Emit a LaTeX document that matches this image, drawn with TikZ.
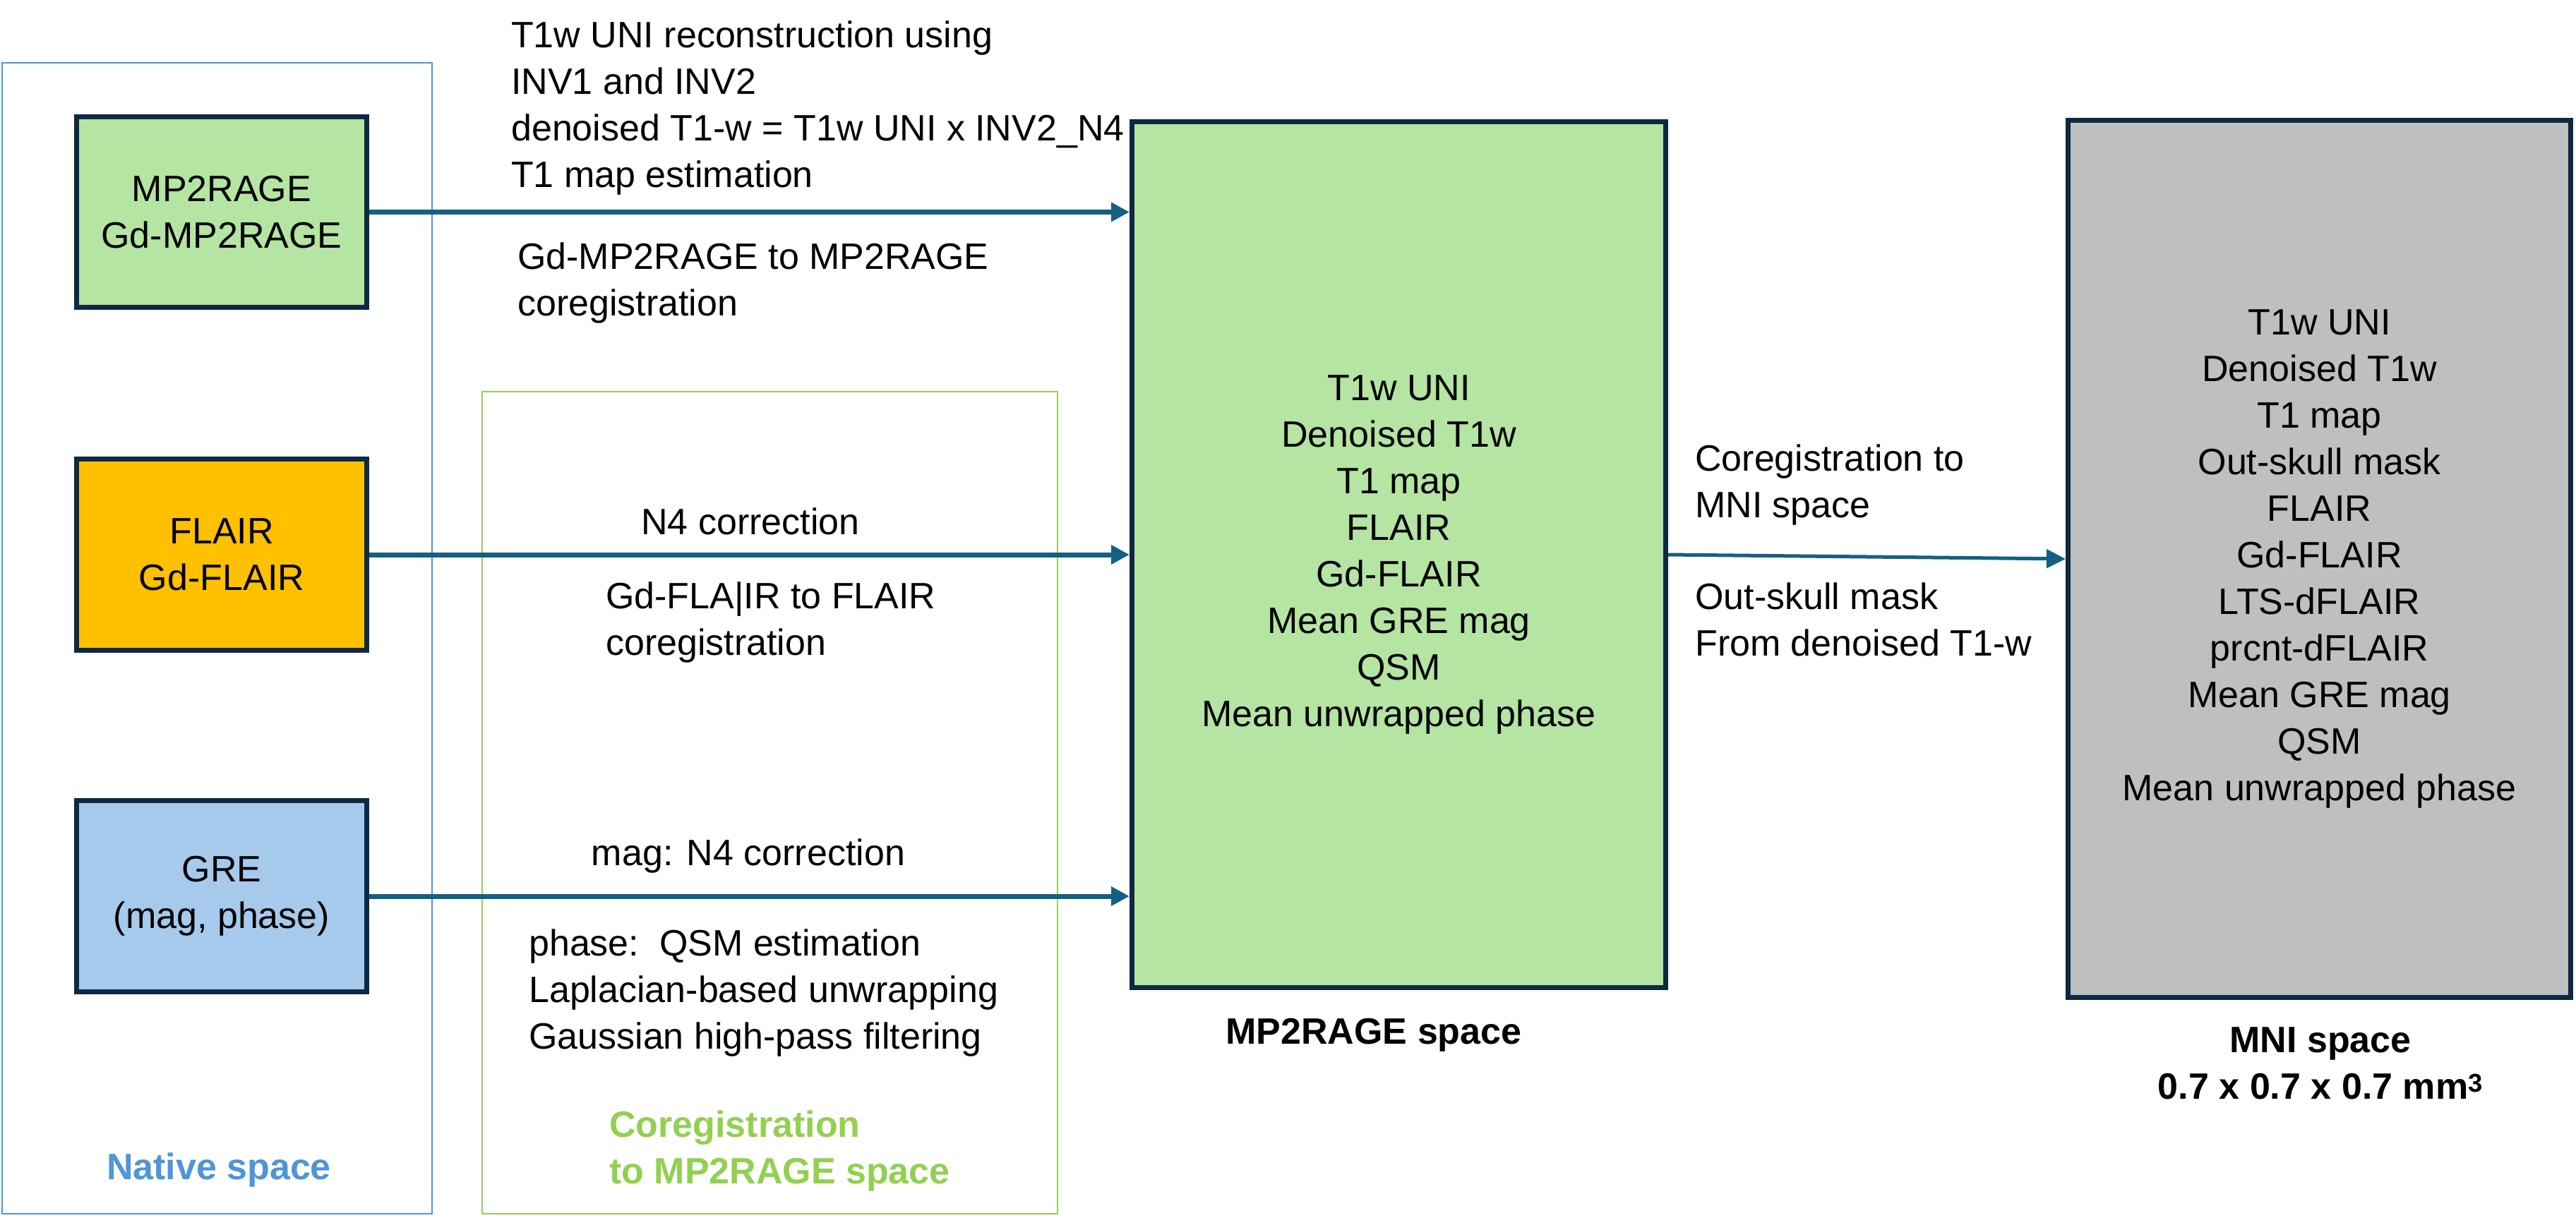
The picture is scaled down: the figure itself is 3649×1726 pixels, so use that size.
\documentclass[tikz,border=0pt]{standalone}
\usepackage{fontspec}
\setmainfont{Liberation Sans}
\usetikzlibrary{arrows.meta}
\definecolor{boxline}{HTML}{0E2841}
\definecolor{arrowc}{HTML}{156082}
\definecolor{lgreen}{HTML}{B4E5A2}
\definecolor{orangec}{HTML}{FFC000}
\definecolor{lblue}{HTML}{A6CAEC}
\definecolor{lgray}{HTML}{BFBFBF}
\definecolor{natblue}{HTML}{4E95D9}
\definecolor{cgreen}{HTML}{92D050}
\newcommand{\mylines}[2][l]{\begin{tabular}[t]{@{}#1@{}}#2\end{tabular}}
\begin{document}
\begin{tikzpicture}[x=1pt,y=-1pt,
  every node/.style={inner sep=0pt, font=\fontsize{52}{66}\selectfont},
  databox/.style={draw=boxline, line width=7pt, align=center},
  region/.style={line width=2.5pt},
  flow/.style={draw=arrowc, line width=7pt, -{Triangle[length=26pt,width=26pt]}},
  flowthin/.style={draw=arrowc, line width=5pt, -{Triangle[length=27pt,width=26pt]}},
  lbl/.style={anchor=base west},
  clbl/.style={anchor=base},
  boldlbl/.style={anchor=base, font=\fontsize{52}{66}\selectfont\bfseries}]
\useasboundingbox (0,0) rectangle (3649,1726);

% regions
\node[region, draw=natblue, minimum width=609pt, minimum height=1631pt] (native) at (307.5,904.5) {};
\node[region, draw=cgreen, minimum width=815pt, minimum height=1165pt] (coreg) at (1090.5,1137.5) {};

% input boxes
\node[databox, fill=lgreen, minimum width=411pt, minimum height=270pt] (mpr) at (314,300.5) {MP2RAGE\\Gd-MP2RAGE};
\node[databox, fill=orangec, minimum width=411pt, minimum height=271pt] (flair) at (314,786) {FLAIR\\Gd-FLAIR};
\node[databox, fill=lblue, minimum width=411pt, minimum height=271pt] (gre) at (314,1270) {GRE\\(mag, phase)};

% space boxes
\node[databox, fill=lgreen, minimum width=756pt, minimum height=1227pt] (mp) at (1981.5,786)
  {T1w UNI\\Denoised T1w\\T1 map\\FLAIR\\Gd-FLAIR\\Mean GRE mag\\QSM\\Mean unwrapped phase};
\node[databox, fill=lgray, minimum width=712pt, minimum height=1243pt] (mni) at (3285.5,792)
  {T1w UNI\\Denoised T1w\\T1 map\\Out-skull mask\\FLAIR\\Gd-FLAIR\\LTS-dFLAIR\\prcnt-dFLAIR\\Mean GRE mag\\QSM\\Mean unwrapped phase};

% arrows
\draw[flow] (mpr.east) -- (mpr.east -| mp.west);
\draw[flow] (flair.east) -- (flair.east -| mp.west);
\draw[flow] (gre.east) -- (gre.east -| mp.west);
\draw[flowthin] (mp.east) -- (mni.west);

% labels
\node[lbl] (tmpa) at (724,68) {\mylines{T1w UNI reconstruction using\\INV1 and INV2\\denoised T1-w = T1w UNI x INV2\_N4\\T1 map estimation}};
\node[lbl] (tmpb) at (733,381) {\mylines{Gd-MP2RAGE to MP2RAGE\\coregistration}};
\node[clbl] (tfa) at (1063,757) {N4 correction};
\node[lbl] (tfb) at (858,862) {\mylines{Gd-FLA|IR to FLAIR\\coregistration}};
\node[clbl] (tga) at (1060,1226) {mag: N4 correction};
\node[lbl] (tgb) at (749,1354) {\mylines{phase:\ \ QSM estimation\\Laplacian-based unwrapping\\Gaussian high-pass filtering}};
\node[lbl, text=cgreen, font=\fontsize{52}{66}\selectfont\bfseries] (tcoreg) at (863,1611) {\mylines{Coregistration\\to MP2RAGE space}};
\node[boldlbl, text=natblue] (tnative) at (310,1671) {Native space};
\node[lbl] (tmnia) at (2401,667) {\mylines{Coregistration to\\MNI space}};
\node[lbl] (tmnib) at (2401,863) {\mylines{Out-skull mask\\From denoised T1-w}};
\node[boldlbl] (tmpspace) at (1946,1479) {MP2RAGE space};
\node[boldlbl] (tmnispace) at (3287,1491) {\mylines[c]{MNI space\\0.7 x 0.7 x 0.7 mm\textsuperscript{3}}};
\end{tikzpicture}
\end{document}
